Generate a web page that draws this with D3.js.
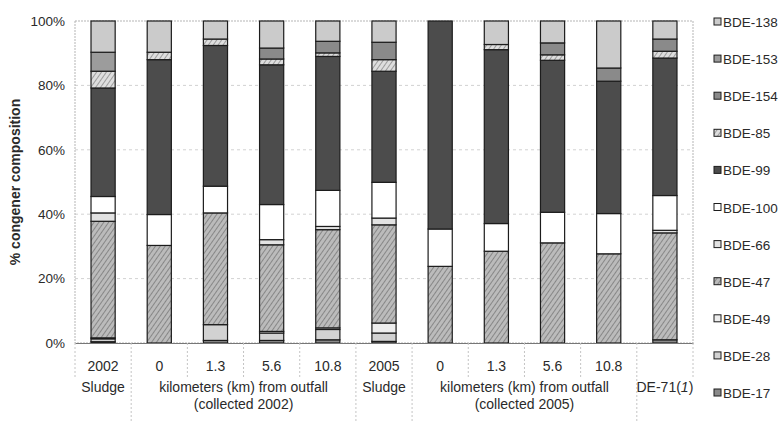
<!DOCTYPE html>
<html>
<head>
<meta charset="utf-8">
<title>PBDE congener composition</title>
<script src="https://cdn.jsdelivr.net/npm/d3@7/dist/d3.min.js"></script>
<style>
  body { margin: 0; background: #fff; }
  text { font-family: "Liberation Sans", Arial, sans-serif; fill: #2a2a2a; }
</style>
</head>
<body>
<svg width="784" height="421" id="mainsvg"></svg>
<script>
// samples along the x axis (first label row)
const sampleLabels = ['2002', '0', '1.3', '5.6', '10.8', '2005', '0', '1.3', '5.6', '10.8', ''];
// second label row, each spanning a number of samples
const groupLabels = [['Sludge'], ['kilometers (km) from outfall', '(collected 2002)'], ['Sludge'],
                     ['kilometers (km) from outfall', '(collected 2005)'], ['DE-71(1)']];
const groupSpans = [1, 4, 1, 4, 1];
const yTicks = [0, 20, 40, 60, 80, 100];

// congeners, stacked from the bottom up
const congeners = ['BDE-17', 'BDE-28', 'BDE-49', 'BDE-47', 'BDE-66', 'BDE-100',
                   'BDE-99', 'BDE-85', 'BDE-154', 'BDE-153', 'BDE-138'];
// % of total per sample
const bde17  = [0.4, 0, 0.8, 0.8, 1.0, 0.5, 0, 0, 0, 0, 1.0];
const bde28  = [0.9, 0, 4.9, 2.3, 3.2, 2.6, 0, 0, 0, 0, 0];
const bde49  = [0.3, 0, 0, 0.5, 0.5, 3.1, 0, 0, 0, 0, 0];
const bde47  = [36.2, 30.3, 34.7, 26.9, 30.5, 30.5, 23.8, 28.5, 31.1, 27.7, 33.2];
const bde66  = [2.6, 0, 0, 1.6, 1.0, 2.1, 0, 0, 0, 0, 0.8];
const bde100 = [5.1, 9.6, 8.3, 10.9, 11.2, 11.1, 11.6, 8.6, 9.5, 12.5, 10.8];
const bde99  = [33.7, 48.1, 43.7, 43.4, 41.6, 34.5, 64.6, 54.0, 47.2, 41.1, 42.7];
const bde85  = [5.2, 2.3, 2.0, 1.8, 1.1, 3.6, 0, 1.6, 1.7, 0, 2.1];
const bde154 = [0, 0, 0, 3.4, 3.6, 5.4, 0, 0, 3.7, 4.1, 3.8];
const bde153 = [5.9, 0, 0, 0, 0, 0, 0, 0, 0, 0, 0];
const bde138 = [9.7, 9.7, 5.6, 8.4, 6.3, 6.6, 0, 7.3, 6.8, 14.6, 5.6];
const series = [bde17, bde28, bde49, bde47, bde66, bde100, bde99, bde85, bde154, bde153, bde138];

const fills = {
  'BDE-17': '#8a8a8a', 'BDE-28': '#d2d2d2', 'BDE-49': '#ededed', 'BDE-47': 'url(#hatch47)',
  'BDE-66': '#e2e2e2', 'BDE-100': '#ffffff', 'BDE-99': '#4c4c4c', 'BDE-85': 'url(#hatch85)',
  'BDE-154': '#8a8a8a', 'BDE-153': '#9c9c9c', 'BDE-138': '#cbcbcb'
};

const table = sampleLabels.map((s, i) => {
  const row = {idx: i};
  congeners.forEach((c, k) => row[c] = series[k][i]);
  return row;
});

const svg = d3.select('#mainsvg');
const margin = {top: 21, left: 75, right: 91, bottom: 78};
const width = +svg.attr('width');
const height = +svg.attr('height');
const plotRight = width - margin.right;
const plotBottom = height - margin.bottom;

// patterns for hatched segments
const defs = svg.append('defs');
function hatch(id, bg, line) {
  const p = defs.append('pattern').attr('id', id).attr('patternUnits', 'userSpaceOnUse')
    .attr('width', 4).attr('height', 4).attr('patternTransform', 'rotate(35)');
  p.append('rect').attr('width', 4).attr('height', 4).attr('fill', bg);
  p.append('line').attr('x1', 0).attr('y1', 0).attr('x2', 0).attr('y2', 4)
    .attr('stroke', line).attr('stroke-width', 1.3);
}
hatch('hatch47', '#bbbbbb', '#6a6a6a');
hatch('hatch85', '#dedede', '#7a7a7a');

const x = d3.scaleBand().domain(d3.range(sampleLabels.length))
  .range([margin.left, plotRight]).paddingInner(0.57).paddingOuter(0.285);
const y = d3.scaleLinear().domain([0, 100]).range([plotBottom, margin.top]);

// gridlines
svg.append('g').selectAll('line').data(yTicks.slice(1, -1)).join('line')
  .attr('x1', margin.left).attr('x2', plotRight)
  .attr('y1', d => y(d)).attr('y2', d => y(d))
  .attr('stroke', '#d2d2d2').attr('stroke-dasharray', '3,3');

// plot frame
svg.append('rect').attr('x', margin.left).attr('y', margin.top)
  .attr('width', plotRight - margin.left).attr('height', plotBottom - margin.top)
  .attr('fill', 'none').attr('stroke', '#b5b5b5').attr('stroke-dasharray', '2,1');

// stacked bars
const stacked = d3.stack().keys(congeners)(table);
svg.append('g').selectAll('g').data(stacked).join('g')
  .attr('fill', d => fills[d.key])
  .selectAll('rect').data(d => d.filter(s => s[1] - s[0] > 0)).join('rect')
  .attr('x', d => x(d.data.idx))
  .attr('width', x.bandwidth())
  .attr('y', d => y(d[1]))
  .attr('height', d => y(d[0]) - y(d[1]))
  .attr('stroke', '#1c1c1c').attr('stroke-width', 1.2);

// y axis
const yAxis = d3.axisLeft(y).tickValues(yTicks).tickFormat(d => d + '%').tickSize(0).tickPadding(10);
const yg = svg.append('g').attr('transform', `translate(${margin.left},0)`).call(yAxis);
yg.select('.domain').remove();
yg.selectAll('.tick text').attr('font-size', 13.5).attr('fill', '#333');

svg.append('text').text('% congener composition')
  .attr('transform', `translate(20,${(margin.top + plotBottom) / 2}) rotate(-90)`)
  .attr('text-anchor', 'middle').attr('font-size', 14).attr('font-weight', 'bold');

// x axis: first row of labels
const xAxis = d3.axisBottom(x).tickFormat(i => sampleLabels[i]).tickSize(0).tickPadding(18);
const xg = svg.append('g').attr('transform', `translate(0,${plotBottom})`).call(xAxis);
xg.select('.domain').attr('stroke', '#777');
xg.selectAll('.tick text').attr('font-size', 14).attr('fill', '#2a2a2a');

// separators between samples and between groups
const step = x.step();
const edge = i => margin.left + i * step;
const groupEdges = [0];
groupSpans.forEach(s => groupEdges.push(groupEdges[groupEdges.length - 1] + s));
svg.append('g').selectAll('line').data(d3.range(sampleLabels.length + 1)).join('line')
  .attr('x1', edge).attr('x2', edge)
  .attr('y1', plotBottom)
  .attr('y2', i => (groupEdges.includes(i) && i > 0 && i < sampleLabels.length) ? height : plotBottom + 36)
  .attr('stroke', '#c4c4c4').attr('stroke-dasharray', '2,2');

// second row: group labels
const grp = svg.append('g').selectAll('text').data(groupLabels).join('text')
  .attr('x', (d, i) => (edge(groupEdges[i]) + edge(groupEdges[i + 1])) / 2)
  .attr('y', plotBottom + 49)
  .attr('text-anchor', 'middle').attr('font-size', 14);
grp.each(function(lines) {
  const t = d3.select(this);
  lines.forEach((ln, k) => {
    const m = ln.match(/^(.*\()(\d)(\))$/);
    if (m) {
      t.append('tspan').text(m[1]);
      t.append('tspan').text(m[2]).attr('font-style', 'italic');
      t.append('tspan').text(m[3]);
    } else {
      t.append('tspan').attr('x', t.attr('x')).attr('dy', k === 0 ? 0 : 17).text(ln);
    }
  });
});

// legend, top to bottom
const legendKeys = congeners.slice().reverse();
const lg = svg.append('g').selectAll('g').data(legendKeys).join('g')
  .attr('transform', (d, i) => `translate(714,${22 + i * 37.1})`);
lg.append('rect').attr('x', 0).attr('y', -4).attr('width', 7).attr('height', 7)
  .attr('fill', d => fills[d]).attr('stroke', '#1c1c1c').attr('stroke-width', 1);
lg.append('text').attr('x', 9).attr('y', 5).attr('font-size', 13.5).text(d => d);
</script>
</body>
</html>
